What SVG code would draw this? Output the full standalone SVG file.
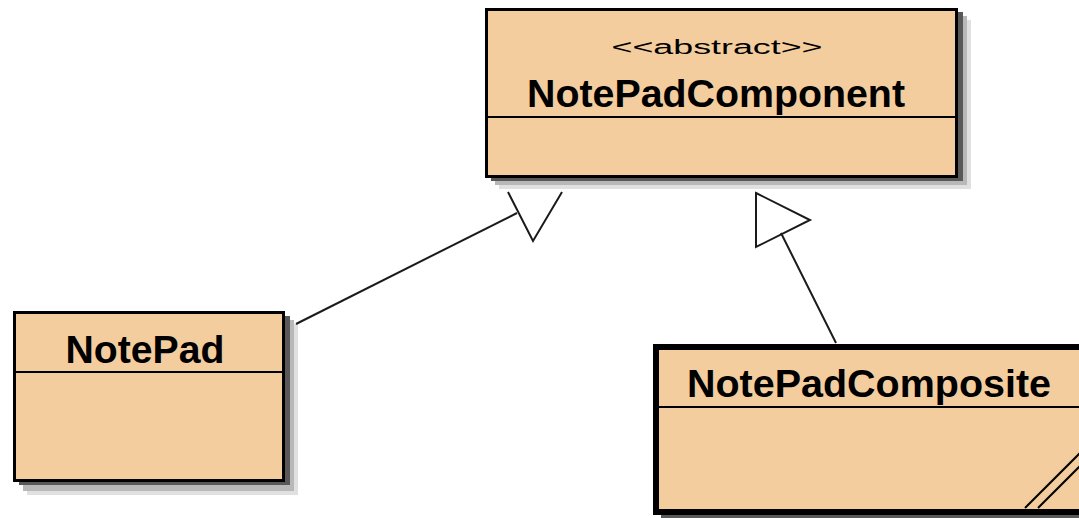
<svg xmlns="http://www.w3.org/2000/svg" width="1079" height="518" viewBox="0 0 1079 518">
<style>
.box{fill:#F4CD9E;stroke:#000;stroke-width:3}
.thick{stroke-width:6}
.div{stroke:#000;stroke-width:2}
.s1{fill:#e0e0e0}
.s2{fill:#b8b8b8}
.s3{fill:#585858}
.name{font-family:"Liberation Sans",Arial,sans-serif;font-weight:bold;font-size:39px;fill:#000}
.st{font-family:"Liberation Sans",Arial,sans-serif;font-size:20px;fill:#000}
.edge{stroke:#1a1a1a;stroke-width:2;fill:none}
</style>
<rect width="1079" height="518" fill="#fff"/>
<g id="NotePadComponent">
<rect class="s1" x="499" y="20" width="472" height="169"/>
<rect class="s2" x="495" y="16" width="472" height="169"/>
<rect class="s3" x="491" y="12" width="472" height="169"/>
<rect class="box" x="486.5" y="9.5" width="470" height="167"/>
<line class="div" x1="486" y1="117" x2="957" y2="117"/>
<text class="st" x="717" y="54" text-anchor="middle" textLength="211" lengthAdjust="spacingAndGlyphs">&lt;&lt;abstract&gt;&gt;</text>
<text class="name" x="716" y="107" text-anchor="middle" textLength="378" lengthAdjust="spacingAndGlyphs">NotePadComponent</text>
</g>
<g id="NotePad">
<rect class="s1" x="27" y="324" width="271" height="171"/>
<rect class="s2" x="23" y="320" width="271" height="171"/>
<rect class="s3" x="19" y="316" width="271" height="169"/>
<rect class="box" x="14.5" y="312.5" width="269" height="168"/>
<line class="div" x1="14" y1="372" x2="284" y2="372"/>
<text class="name" x="145" y="363" text-anchor="middle" textLength="159" lengthAdjust="spacingAndGlyphs">NotePad</text>
</g>
<g id="NotePadComposite">
<rect class="s3" x="661" y="352" width="430" height="167"/>
<rect class="box thick" x="656" y="347" width="440" height="165"/>
<line class="div" x1="656" y1="407" x2="1079" y2="407"/>
<text class="name" x="869" y="397" text-anchor="middle" textLength="364" lengthAdjust="spacingAndGlyphs">NotePadComposite</text>
<line x1="1025" y1="508" x2="1081" y2="452" stroke="#000" stroke-width="2"/>
<line x1="1038" y1="508" x2="1081" y2="465" stroke="#000" stroke-width="2"/>
</g>
<g id="connectors">
<line class="edge" x1="296" y1="324" x2="517" y2="213"/>
<polyline class="edge" points="508,192 533,241 562,192"/>
<line class="edge" x1="836" y1="343" x2="781" y2="233"/>
<polygon class="edge" points="756,193 810,220 756,247"/>
</g>
</svg>
